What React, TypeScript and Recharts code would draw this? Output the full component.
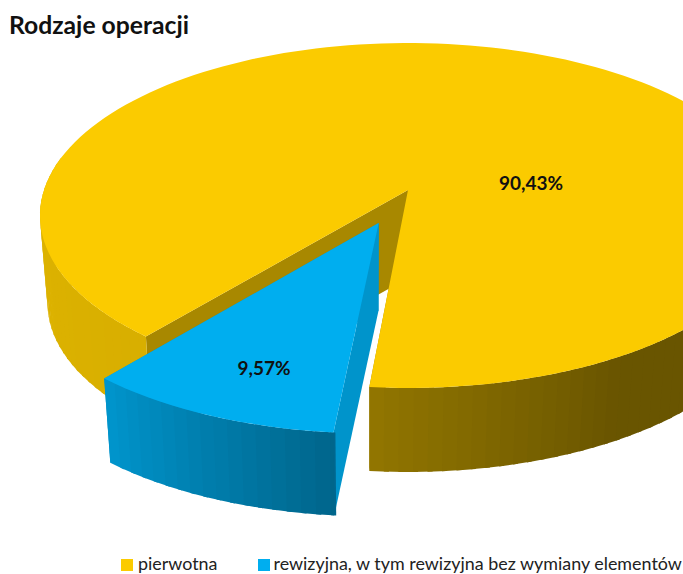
import { PieChart, Pie, Legend } from 'recharts';

const names = ['pierwotna', 'rewizyjna, w tym rewizyjna bez wymiany elementów'];
const shares = [90.43, 9.57];
const colors = ['#FBCB00', '#00AEEF'];
const pulledOut = [0, 0.205];

const data = names.map((name, i) => ({ name, value: shares[i], fill: colors[i], pull: pulledOut[i] }));

const fontName = 'Lato, sans-serif';
const SQUASH = 0.4635; // top face height / width
const PERSP = 0.1478;
// sides of the cake run down to a far away point
const DEPTH_X = 370;
const DEPTH_Y = 4040;
const DEPTH_SCALE = 0.977;

const shadeStops = [[0, 0.41], [150, 0.9], [230, 0.86], [265, 0.58], [300, 0.42], [360, 0.41]];

function shadeAt(angle: number) {
  const a = ((angle % 360) + 360) % 360;
  for (let i = 1; i < shadeStops.length; i++) {
    if (a <= shadeStops[i][0]) {
      const [a0, s0] = shadeStops[i - 1];
      const [a1, s1] = shadeStops[i];
      return s0 + ((s1 - s0) * (a - a0)) / (a1 - a0);
    }
  }
  return 0.41;
}

function darken(hex: string, f: number) {
  const n = parseInt(hex.slice(1), 16);
  const r = Math.round(((n >> 16) & 255) * f);
  const g = Math.round(((n >> 8) & 255) * f);
  const b = Math.round((n & 255) * f);
  return `rgb(${r},${g},${b})`;
}

function CakeSlice(props: any) {
  const { cx, cy, outerRadius, startAngle, endAngle, fill, payload } = props;
  const mid = ((startAngle + endAngle) / 2) * (Math.PI / 180);
  const pull = payload.pull ?? props.pull ?? 0;
  const du = Math.cos(mid) * pull;
  const dv = -Math.sin(mid) * pull;

  const project = (u: number, v: number) => {
    const w = 1 - PERSP * (v + dv);
    return [cx + (outerRadius * (u + du)) / w, cy + (outerRadius * SQUASH * (v + dv)) / w];
  };
  const rimTop = (deg: number) => {
    const t = (deg * Math.PI) / 180;
    return project(Math.cos(t), -Math.sin(t));
  };
  const lower = (p: number[]) => [
    DEPTH_X + DEPTH_SCALE * (p[0] - DEPTH_X),
    DEPTH_Y + DEPTH_SCALE * (p[1] - DEPTH_Y),
  ];
  const poly = (pts: number[][]) => pts.map((p) => p.map((c) => c.toFixed(1)).join(',')).join(' ');

  const centre = project(0, 0);
  const angles: number[] = [];
  for (let a = startAngle; a < endAngle; a += 2) angles.push(a);
  angles.push(endAngle);

  const cutShade = pull > 0 ? 0.85 : 0.67;
  const cut = (deg: number) => {
    const r = rimTop(deg);
    return poly([centre, r, lower(r), lower(centre)]);
  };
  const cutFill = darken(fill, cutShade);

  // only the part of the rim facing the viewer, painted so each strip overlaps the last
  const front = angles.slice(1).map((a, i) => [angles[i], a]).filter(([a]) => Math.sin((a * Math.PI) / 180) < 0.2);

  return (
    <g>
      <polygon points={cut(startAngle)} fill={cutFill} />
      <polygon points={cut(endAngle)} fill={cutFill} />
      {front.map(([a0, a1], i) => {
        const to = i === front.length - 1 ? a1 : a1 + 0.7;
        const p0 = rimTop(a0);
        const p1 = rimTop(to);
        return <polygon key={a0} points={poly([p0, p1, lower(p1), lower(p0)])} fill={darken(fill, shadeAt((a0 + a1) / 2))} />;
      })}
      <polygon points={poly([centre, ...angles.map(rimTop)])} fill={fill} />
    </g>
  );
}

const labelSpots = [[531, 182], [264, 367]];

function SliceLabel(props: any) {
  const spot = labelSpots[props.index];
  return (
    <text x={spot[0]} y={spot[1]} textAnchor="middle" dominantBaseline="central"
      fontFamily={fontName} fontWeight={700} fontSize={19} fill="#111">
      {props.value.toFixed(2).replace('.', ',')}%
    </text>
  );
}

function LegendRow(props: any) {
  return (
    <div style={{ display: 'flex', fontFamily: fontName, fontSize: 17.9, color: '#222', lineHeight: '18px', whiteSpace: 'nowrap' }}>
      {props.payload.map((e: any, i: number) => (
        <div key={e.value} style={{ display: 'flex', alignItems: 'center', marginRight: i === 0 ? 41 : 0 }}>
          <span style={{ width: 12, height: 12, background: e.payload.fill, marginRight: i === 0 ? 5 : 3, position: 'relative', top: 2 }} />
          {e.value}
        </div>
      ))}
    </div>
  );
}

export default function App() {
  return (
    <div style={{ position: 'absolute', left: 0, top: 0, width: 683, height: 574, overflow: 'hidden', background: '#fff' }}>
      <div style={{ position: 'absolute', left: 9, top: 10, fontFamily: fontName, fontWeight: 700, fontSize: 24.7, color: '#111', zIndex: 2 }}>
        Rodzaje operacji
      </div>
      <PieChart width={683} height={574} margin={{ top: 0, right: 0, bottom: 0, left: 0 }}>
        <Pie
          data={data}
          dataKey="value"
          nameKey="name"
          cx={408}
          cy={190}
          outerRadius={364}
          startAngle={264.8}
          endAngle={624.8}
          paddingAngle={0}
          stroke="none"
          shape={CakeSlice}
          label={SliceLabel}
          labelLine={false}
          isAnimationActive={false}
        />
        <Legend content={LegendRow} wrapperStyle={{ left: 121, top: 554, width: 562, bottom: 'auto' }} />
      </PieChart>
    </div>
  );
}
